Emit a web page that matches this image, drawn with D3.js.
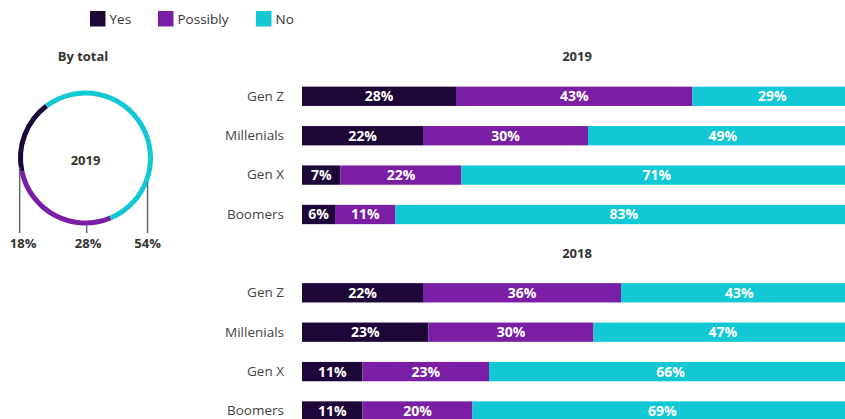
<!DOCTYPE html>
<html>
<head>
<meta charset="utf-8">
<script src="https://cdn.jsdelivr.net/npm/d3@7"></script>
<style>
  html, body { margin: 0; padding: 0; background: #fff; }
  svg { display: block; font-family: "Open Sans", "Noto Sans", sans-serif; }
</style>
</head>
<body>
<svg id="chart" width="845" height="419"></svg>
<script>
// Answer options and colours
const answers = ["Yes", "Possibly", "No"];
const answerColors = ["#1d0638", "#7a1ea6", "#12c8d4"];

// Generations
const generations = ["Gen Z", "Millenials", "Gen X", "Boomers"];

// Share of each answer per generation (%), in order Yes / Possibly / No
const yes2019 = [28, 22, 7, 6];
const possibly2019 = [43, 30, 22, 11];
const no2019 = [29, 49, 71, 83];

const yes2018 = [22, 23, 11, 11];
const possibly2018 = [36, 30, 23, 20];
const no2018 = [43, 47, 66, 69];

// Overall split for 2019 (%)
const totalLabels = ["Yes", "Possibly", "No"];
const total2019 = [18, 28, 54];

const svg = d3.select("#chart");
const colorOf = d3.scaleOrdinal().domain(answers).range(answerColors);

// ---- Legend ----
const legend = svg.append("g").attr("transform", "translate(90,11)");
const legendX = [0, 68, 166];
answers.forEach((a, i) => {
  const g = legend.append("g").attr("transform", `translate(${legendX[i]},0)`);
  g.append("rect").attr("width", 15.5).attr("height", 15.5).attr("fill", colorOf(a));
  g.append("text").attr("x", 19.5).attr("y", 13)
    .attr("font-size", 13.5).attr("fill", "#333").text(a);
});

// ---- Stacked bar panels ----
const x = d3.scaleLinear().domain([0, 100]).range([302, 852]);

function panel(title, yTop, yes, possibly, no) {
  const rows = generations.map((g, i) => ({ gen: g, Yes: yes[i], Possibly: possibly[i], No: no[i] }));
  const y = d3.scaleBand().domain(generations)
    .range([yTop, yTop + 157.6]).paddingInner(0.51).paddingOuter(0.255);
  const stacked = d3.stack().keys(answers)(rows);

  svg.append("text")
    .attr("x", (x(0) + x(100)) / 2).attr("y", yTop - 15.5)
    .attr("text-anchor", "middle").attr("font-size", 13).attr("font-weight", 700)
    .attr("fill", "#333").text(title);

  // Category axis labels
  const axis = d3.axisLeft(y).tickSize(0).tickPadding(0);
  const ag = svg.append("g").attr("transform", "translate(284,0)").call(axis);
  ag.select(".domain").remove();
  ag.selectAll("text").attr("font-size", 13.5).attr("fill", "#444")
    .attr("font-family", "'Open Sans', sans-serif");

  const layers = svg.append("g").selectAll("g").data(stacked).join("g")
    .attr("fill", d => colorOf(d.key));
  layers.selectAll("rect").data(d => d).join("rect")
    .attr("x", d => x(d[0]))
    .attr("y", d => y(d.data.gen))
    .attr("width", d => x(d[1]) - x(d[0]))
    .attr("height", y.bandwidth());

  const labels = svg.append("g").selectAll("g").data(stacked).join("g");
  labels.selectAll("text").data(d => d.map(v => ({ v, key: d.key }))).join("text")
    .attr("x", d => (x(d.v[0]) + x(d.v[1])) / 2)
    .attr("y", d => y(d.v.data.gen) + y.bandwidth() / 2)
    .attr("dy", "0.35em")
    .attr("text-anchor", "middle").attr("font-size", 14).attr("font-weight", 700)
    .attr("fill", "#fff")
    .text(d => d.v.data[d.key] + "%");
}

panel("2019", 76.6, yes2019, possibly2019, no2019);
panel("2018", 273.1, yes2018, possibly2018, no2018);

// ---- Donut "By total" ----
svg.append("text").attr("x", 83).attr("y", 61)
  .attr("text-anchor", "middle").attr("font-size", 13).attr("font-weight", 700)
  .attr("fill", "#333").text("By total");

const cx = 85.5, cy = 158, rOuter = 67.5, rInner = 62.5;
const deg = Math.PI / 180;
const pieData = totalLabels.map((k, i) => ({ key: k, value: total2019[i] }));
// Draw No first, then Possibly, then Yes, clockwise
const pie = d3.pie().value(d => d.value).sort(null)
  .startAngle(-37 * deg).endAngle(323 * deg);
const arcs = pie(pieData.slice().reverse());
const arc = d3.arc().innerRadius(rInner).outerRadius(rOuter);

const donut = svg.append("g").attr("transform", `translate(${cx},${cy})`);
donut.selectAll("path").data(arcs).join("path")
  .attr("d", arc).attr("fill", d => colorOf(d.data.key));

donut.append("text").attr("y", 2).attr("dy", "0.35em")
  .attr("text-anchor", "middle").attr("font-size", 13).attr("font-weight", 700)
  .attr("fill", "#333").text("2019");

// Leader lines from the ring down to the value labels
const leaderAngle = { Yes: 262, Possibly: 179, No: 111 };
const labelShift = { Yes: 3.5, Possibly: 1.5, No: 0 };
const leaderBottom = 233;
pieData.forEach(d => {
  const a = leaderAngle[d.key] * deg;
  const px = cx + rOuter * Math.sin(a) * 0.985;
  const py = cy - rOuter * Math.cos(a);
  svg.append("line")
    .attr("x1", px).attr("x2", px).attr("y1", py).attr("y2", leaderBottom)
    .attr("stroke", "#666").attr("stroke-width", 1.5);
  svg.append("text")
    .attr("x", px + labelShift[d.key]).attr("y", 248)
    .attr("text-anchor", "middle").attr("font-size", 13).attr("font-weight", 700)
    .attr("fill", "#333").text(d.value + "%");
});
</script>
</body>
</html>
